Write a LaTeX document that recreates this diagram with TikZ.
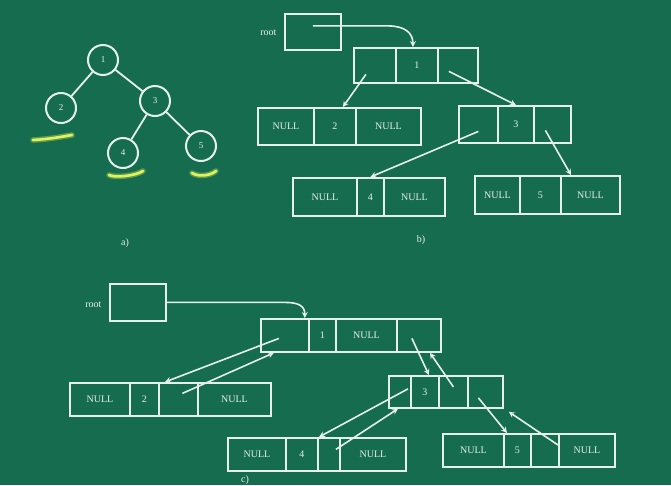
\documentclass[tikz,border=0pt]{standalone}
\usepackage{fontspec}
\setmainfont{Liberation Serif}
\usetikzlibrary{calc}
\definecolor{board}{HTML}{166C4F}
\definecolor{chalk}{HTML}{E6F0EA}
\definecolor{marker}{HTML}{E2F25A}
\tikzset{
	cell/.style={draw=chalk, line width=1.8pt, text=chalk, inner sep=0pt, anchor=north west, font=\fontsize{10}{11}\selectfont},
	vert/.style={draw=chalk, circle, line width=2pt, minimum size=30pt, inner sep=0pt, text=chalk, font=\fontsize{9}{10}\selectfont},
	link/.style={chalk, line width=1.6pt, ->, >=stealth},
	treeedge/.style={chalk, line width=1.8pt},
	hl/.style={marker, line width=2.6pt, line cap=round},
	hlglow/.style={marker, line width=5.5pt, line cap=round, opacity=0.35},
	lbl/.style={text=chalk, font=\fontsize{10}{11}\selectfont}
}
\begin{document}
\begin{tikzpicture}[x=1pt,y=-1pt]
\fill[board] (0,0) rectangle (671,485);
\useasboundingbox (0,0) rectangle (671,485);

% a) the tree
\node[vert] (t1) at (103,60) {1};
\node[vert] (t2) at (61,108) {2};
\node[vert] (t3) at (155,101) {3};
\node[vert] (t4) at (123,153) {4};
\node[vert] (t5) at (201,146) {5};
\draw[treeedge] (t1) -- (t2);
\draw[treeedge] (t1) -- (t3);
\draw[treeedge] (t3) -- (t4);
\draw[treeedge] (t3) -- (t5);
\foreach \s in {hlglow,hl} {
	\draw[\s] (33,140) .. controls (50,139) and (60,137) .. (72,135);
	\draw[\s] (109,175) .. controls (115,178) and (135,176) .. (143,171);
	\draw[\s] (192,173) .. controls (198,177) and (210,176) .. (216,171);
}
\node[lbl] (la) at (125,243) {a)};

% b) and c) the linked cells
\foreach \nm/\x/\y/\w/\h/\t in {
	broot/284/13/56/36/{},
	b1a/353/47/42/35/{}, b1b/395/47/42/35/1, b1c/437/47/40/35/{},
	b2a/257/107/56/37/NULL, b2b/313/107/42/37/2, b2c/355/107/65/37/NULL,
	b3a/458/105/39/37/{}, b3b/497/105/36/37/3, b3c/533/105/37/37/{},
	b4a/292/177/64/38/NULL, b4b/356/177/27/38/4, b4c/383/177/61/38/NULL,
	b5a/474/175/45/38/NULL, b5b/519/175/41/38/5, b5c/560/175/59/38/NULL,
	croot/109/283/56/37/{},
	c1a/260/318/48/33/{}, c1b/308/318/27/33/1, c1c/335/318/61/33/NULL, c1d/396/318/44/33/{},
	c2a/69/382/60/33/NULL, c2b/129/382/29/33/2, c2c/158/382/39/33/{}, c2d/197/382/73/33/NULL,
	c3a/388/375/22/32/{}, c3b/410/375/28/32/3, c3c/438/375/29/32/{}, c3d/467/375/35/32/{},
	c4a/227/437/58/33/NULL, c4b/285/437/32/33/4, c4c/317/437/22/33/{}, c4d/339/437/66/33/NULL,
	c5a/442/433/61/33/NULL, c5b/503/433/27/33/5, c5c/530/433/28/33/{}, c5d/558/433/56/33/NULL}
	\node[cell, minimum width=\w, minimum height=\h] (\nm) at (\x,\y) {\t};

\node[lbl, anchor=east] (broottxt) at ($(broot.west)+(-4,1)$) {root};
\node[lbl, anchor=east] (croottxt) at ($(croot.west)+(-4,2)$) {root};
\node[lbl] (lb) at (421,240) {b)};
\node[lbl] (lc) at (245,480) {c)};

% b) pointers
\draw[link] ($(broot.center)+(0,-6)$) -- ++(75,0) .. controls +(17,0) and +(0,-14) .. ($(b1b.north)+(-4,0)$);
\draw[link] ($(b1a.center)+(-9,9)$) -- ($(b2b.north)+(8,0)$);
\draw[link] ($(b1c.center)+(-9,6)$) -- (b3b.north);
\draw[link] ($(b3a.center)+(0,7)$) -- (b4b.north);
\draw[link] ($(b3c.center)+(-7,6)$) -- ($(b5c.north west)+(11,0)$);

% c) pointers, both ways
\draw[link] (croot.east) -- ++(118,0) .. controls +(14,0) and +(0,-12) .. ($(c1a.north east)+(-5,0)$);
\draw[link] ($(c1a.center)+(-6,3)$) -- ($(c2c.north west)+(7,0)$);
\draw[link] ($(c2c.center)+(4,-6)$) -- ($(c1a.south)+(-11,0)$);
\draw[link] ($(c1d.center)+(-7,3)$) -- ($(c3b.north)+(4,0)$);
\draw[link] ($(c3c.center)+(0,-5)$) -- ($(c1d.south)+(11,0)$);
\draw[link] ($(c3a.center)+(8,-3)$) -- ($(c4c.north west)+(2,0)$);
\draw[link] ($(c4c.center)+(7,-5)$) -- ($(c3a.south)+(-2,0)$);
\draw[link] ($(c3d.center)+(-7,6)$) -- ($(c5b.north west)+(4,0)$);
\draw[link] ($(c5d.north west)+(0,12)$) -- ($(c3d.south east)+(5,3)$);
\end{tikzpicture}
\end{document}
